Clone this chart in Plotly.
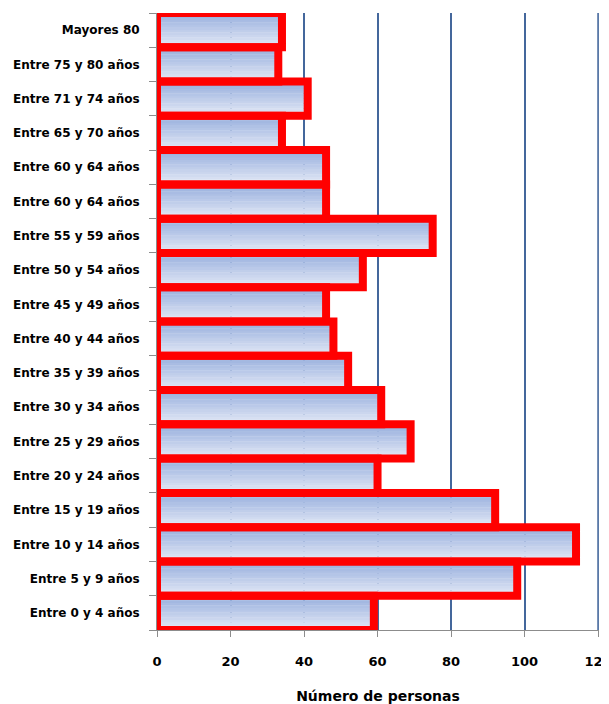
import plotly.graph_objects as go

categories = ["Mayores 80", "Entre 75 y 80 años", "Entre 71 y 74 años", "Entre 65 y 70 años",
              "Entre 60 y 64 años", "Entre 60 y 64 años", "Entre 55 y 59 años", "Entre 50 y 54 años",
              "Entre 45 y 49 años", "Entre 40 y 44 años", "Entre 35 y 39 años", "Entre 30 y 34 años",
              "Entre 25 y 29 años", "Entre 20 y 24 años", "Entre 15 y 19 años", "Entre 10 y 14 años",
              "Entre 5 y 9 años", "Entre 0 y 4 años"]
values = [34, 33, 41, 34, 46, 46, 75, 56, 46, 48, 52, 61, 69, 60, 92, 114, 98, 59]
x_ticks = [0, 20, 40, 60, 80, 100, 120]

n = len(categories)
pos = [n - 1 - i for i in range(n)]

GRID = "#44679c"

fig = go.Figure()

# vertical gradient fill built from stacked thin bands
nb = 14
dark = (152, 175, 221)
light = (226, 232, 246)
for k in range(nb):
    t = k / (nb - 1)  # 0 bottom -> 1 top
    c = tuple(int(round(light[j] + (dark[j] - light[j]) * t)) for j in range(3))
    fig.add_trace(go.Bar(
        x=values, y=pos, orientation="h",
        offset=-0.5 + k / nb, width=1 / nb + 0.01,
        marker=dict(color="rgb(%d,%d,%d)" % c, line=dict(width=0)),
        showlegend=False, hoverinfo="skip"))

fig.add_trace(go.Bar(
    x=values, y=pos, orientation="h", width=1,
    marker=dict(color="rgba(0,0,0,0)", line=dict(color="#ff0000", width=8)),
    showlegend=False))

FONT = "DejaVu Sans"

fig.update_layout(
    width=601, height=696,
    margin=dict(l=149, r=10, t=5, b=74, autoexpand=False),
    barmode="overlay",
    plot_bgcolor="white", paper_bgcolor="white",
    font=dict(family=FONT, color="black"),
)

# grid line at the last tick (plotly skips it at the axis end)
fig.add_shape(type="line", xref="x", yref="paper", x0=x_ticks[-1], x1=x_ticks[-1], y0=0, y1=1,
              line=dict(color=GRID, width=1.6), layer="below")

fig.update_xaxes(
    range=[0, 120.25], tickvals=x_ticks, ticktext=[str(v) for v in x_ticks],
    showgrid=True, gridcolor=GRID, gridwidth=1.6,
    zeroline=False, showline=True, linecolor="#8c8c8c", linewidth=1,
    ticks="outside", ticklen=6, tickcolor="#8c8c8c", ticklabelstandoff=13,
    ticklabeloverflow="allow",
    tickfont=dict(family=FONT, size=13, weight="bold", color="black"),
    title=dict(text="Número de personas", font=dict(family=FONT, size=14, weight="bold", color="black"),
               standoff=24),
)

fig.update_yaxes(
    range=[-0.5, n - 0.5], tickvals=pos, ticktext=categories,
    showgrid=False, zeroline=False, showline=True, linecolor="#8c8c8c", linewidth=1,
    ticks="", ticklabelstandoff=14,
    tickfont=dict(family=FONT, size=12, weight="bold", color="black"),
    minor=dict(tickmode="array", tickvals=[p - 0.5 for p in range(n + 1)],
               ticks="outside", ticklen=7, tickcolor="#8c8c8c", showgrid=False),
)

fig.write_html("out.html")
